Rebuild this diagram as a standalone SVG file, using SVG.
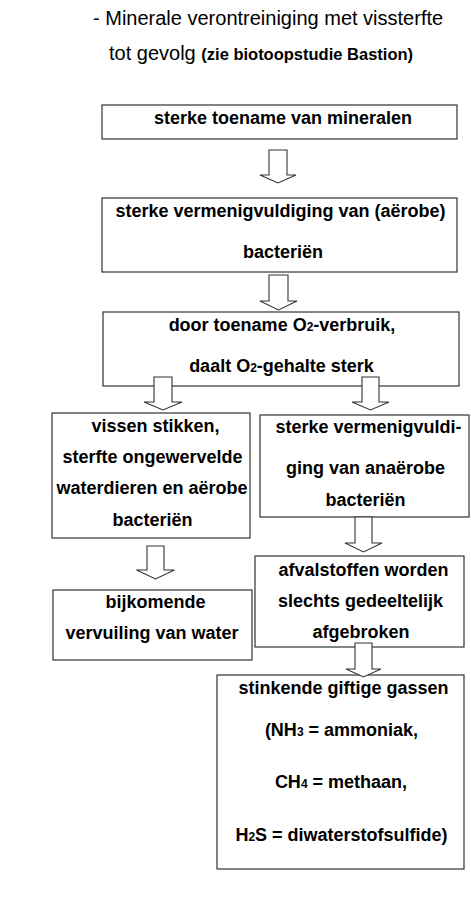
<svg xmlns="http://www.w3.org/2000/svg" width="471" height="903" viewBox="0 0 471 903">
<style>
.box{fill:#fff;stroke:#333;stroke-width:1.2}
.arr{fill:#fff;stroke:#333;stroke-width:1.1}
.t{font-family:"Liberation Sans",Arial,sans-serif;font-weight:bold;font-size:18px;fill:#000;text-anchor:middle}
.sub{font-size:12px}
.title{font-family:"Liberation Sans",Arial,sans-serif;font-size:20px;fill:#000}
</style>
<rect width="471" height="903" fill="#fff"/>
<g id="title">
<text class="title" x="93" y="25">- Minerale verontreiniging met vissterfte</text>
<text class="title" x="109" y="60">tot gevolg <tspan font-weight="bold" font-size="16.5">(zie biotoopstudie Bastion)</tspan></text>
</g>
<g id="n1"><rect class="box" x="102" y="105" width="355" height="34"/><text class="t" x="283" y="124">sterke toename van mineralen</text></g>
<g id="n2"><rect class="box" x="102" y="198" width="355" height="74"/><text class="t" x="280.5" y="216.5">sterke vermenigvuldiging van (aërobe)</text><text class="t" x="283" y="257.5">bacteriën</text></g>
<g id="n3"><rect class="box" x="103" y="312" width="356" height="74"/><text class="t" x="282" y="330.5">door toename O<tspan class="sub">2</tspan>-verbruik,</text><text class="t" x="281.5" y="372">daalt O<tspan class="sub">2</tspan>-gehalte sterk</text></g>
<g id="n4"><rect class="box" x="52" y="413" width="198" height="125"/><text class="t" x="155.5" y="432">vissen stikken,</text><text class="t" x="152.5" y="463">sterfte ongewervelde</text><text class="t" x="152" y="494">waterdieren en aërobe</text><text class="t" x="152.5" y="526">bacteriën</text></g>
<g id="n5"><rect class="box" x="260" y="415" width="209" height="102"/><text class="t" x="368.5" y="433">sterke vermenigvuldi-</text><text class="t" x="365.5" y="474">ging van anaërobe</text><text class="t" x="365.5" y="506">bacteriën</text></g>
<g id="n6"><rect class="box" x="53" y="590" width="199" height="70"/><text class="t" x="155.5" y="608">bijkomende</text><text class="t" x="152" y="639">vervuiling van water</text></g>
<g id="n7"><rect class="box" x="255" y="556" width="209" height="91"/><text class="t" x="363.5" y="576">afvalstoffen worden</text><text class="t" x="360.5" y="607">slechts gedeeltelijk</text><text class="t" x="361" y="638">afgebroken</text></g>
<g id="n8"><rect class="box" x="217" y="675" width="247" height="194"/><text class="t" x="343.5" y="694">stinkende giftige gassen</text><text class="t" x="341.5" y="736">(NH<tspan class="sub">3</tspan> = ammoniak,</text><text class="t" x="341" y="788">CH<tspan class="sub">4</tspan> = methaan,</text><text class="t" x="341.5" y="841">H<tspan class="sub">2</tspan>S = diwaterstofsulfide)</text></g>
<g id="connectors">
<path class="arr" d="M269,150 L269,175 L260,175 L278,183 L296,175 L287,175 L287,150 Z"/>
<path class="arr" d="M269,275 L269,301 L260,301 L278.5,310 L297,301 L288,301 L288,275 Z"/>
<path class="arr" d="M154,377 L154,402 L144,402 L163,410 L182,402 L172,402 L172,377 Z"/>
<path class="arr" d="M362,377 L362,402 L352,402 L370.5,410 L389,402 L379,402 L379,377 Z"/>
<path class="arr" d="M147,546 L147,570 L136.5,570 L155.5,579 L174.5,570 L164,570 L164,546 Z"/>
<path class="arr" d="M355,517 L355,543 L345,543 L363.5,552 L382,543 L372,543 L372,517 Z"/>
<path class="arr" d="M355,643 L355,669 L346,669 L363.5,677 L381,669 L372,669 L372,643 Z"/>
</g>
</svg>
